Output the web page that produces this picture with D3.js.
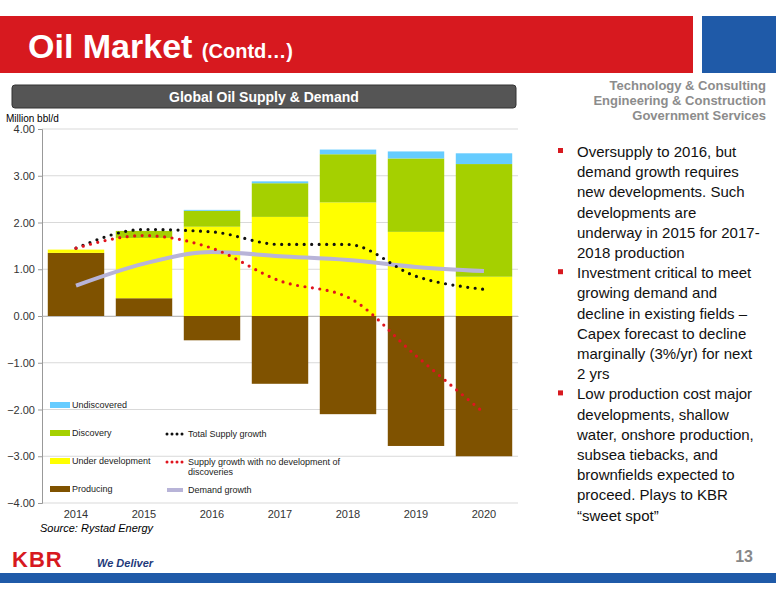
<!DOCTYPE html>
<html><head><meta charset="utf-8">
<script src="https://cdn.jsdelivr.net/npm/d3@7"></script>
<style>body{margin:0;background:#fff;font-family:Arial,"Liberation Sans",sans-serif}</style>
</head><body><svg id="c" width="776" height="600"></svg>
<script>
const years = ['2014','2015','2016','2017','2018','2019','2020'];
const producing = [1.35, 0.38, -0.52, -1.45, -2.10, -2.78, -3.00];
const underDev = [0.07, 1.29, 1.91, 2.12, 2.43, 1.80, 0.84];
const discovery = [0.00, 0.15, 0.34, 0.72, 1.03, 1.57, 2.41];
const undiscovered = [0.00, 0.00, 0.02, 0.04, 0.10, 0.15, 0.23];
const totalSupply = [1.45, 1.85, 1.80, 1.53, 1.53, 0.85, 0.57];
const noDiscSupply = [1.45, 1.72, 1.45, 0.75, 0.40, -0.85, -2.07];
const demand = [0.65, 1.12, 1.37, 1.28, 1.20, 1.05, 0.96];
const yTicks = [4, 3, 2, 1, 0, -1, -2, -3, -4];

const svg = d3.select('#c');
const C = {prod:'#7f5200', ud:'#ffff00', disc:'#a5d000', und:'#66ccff'};

// header
svg.append('rect').attr('x',0).attr('y',16).attr('width',693).attr('height',57).attr('fill','#d7191f');
svg.append('rect').attr('x',702).attr('y',16).attr('width',74).attr('height',57).attr('fill','#1f5aa8');
const t = svg.append('text').attr('x',28).attr('y',58).attr('fill','#fff').style('font-weight','bold');
t.append('tspan').attr('font-size',34).text('Oil Market ');
t.append('tspan').attr('font-size',20).text('(Contd…)');
['Technology & Consulting','Engineering & Construction','Government Services'].forEach((s,i)=>{
  svg.append('text').attr('x',766).attr('y',90+i*15).attr('text-anchor','end').attr('font-size',13)
    .attr('font-weight','bold').attr('fill','#8c8c8c').attr('font-family','"Liberation Sans Narrow",Arial').text(s);
});

// chart title bar
svg.append('rect').attr('x',12).attr('y',85).attr('width',504).attr('height',23).attr('rx',3).attr('fill','#555').attr('stroke','#333');
svg.append('text').attr('x',264).attr('y',102).attr('text-anchor','middle').attr('fill','#fff').attr('font-size',14).attr('font-weight','bold').text('Global Oil Supply & Demand');
svg.append('text').attr('x',6).attr('y',122).attr('font-size',10).text('Million bbl/d');

const x = d3.scaleBand().domain(years).range([42,518]).paddingInner(0.17).paddingOuter(0.085);
const y = d3.scaleLinear().domain([-4,4]).range([503,129]);

const g = svg.append('g');
g.selectAll('.grid').data(yTicks).join('line').attr('x1',42).attr('x2',518)
  .attr('y1',d=>y(d)).attr('y2',d=>y(d)).attr('stroke','#d9d9d9');
g.append('g').attr('transform','translate(42,0)')
  .call(d3.axisLeft(y).tickValues(yTicks).tickFormat(d3.format('.2f')).tickSize(4))
  .call(a=>{a.select('.domain').attr('stroke','#999');a.selectAll('text').attr('font-size',11).attr('fill','#333');a.selectAll('line').attr('stroke','#999');});
g.append('g').attr('transform','translate(0,'+y(0)+')')
  .call(d3.axisBottom(x).tickSize(0).tickFormat(''))
  .call(a=>a.select('.domain').attr('stroke','#bbb'));
years.forEach(yr=>svg.append('text').attr('x',x(yr)+x.bandwidth()/2).attr('y',518).attr('text-anchor','middle').attr('font-size',11).attr('fill','#333').text(yr));

// bars
years.forEach((yr,i)=>{
  const bx = x(yr), bw = x.bandwidth();
  const p = producing[i];
  g.append('rect').attr('x',bx).attr('width',bw).attr('y',y(Math.max(p,0))).attr('height',Math.abs(y(p)-y(0))).attr('fill',C.prod);
  let base = Math.max(p,0);
  [[underDev[i],C.ud],[discovery[i],C.disc],[undiscovered[i],C.und]].forEach(([v,c])=>{
    if(v<=0) return;
    g.append('rect').attr('x',bx).attr('width',bw).attr('y',y(base+v)).attr('height',y(base)-y(base+v)).attr('fill',c);
    base += v;
  });
});

const cx = i => x(years[i]) + x.bandwidth()/2;
const line = d3.line().x((d,i)=>cx(i)).y(d=>y(d)).curve(d3.curveMonotoneX);
g.append('path').attr('d',line(demand)).attr('fill','none').attr('stroke','#b8b4d8').attr('stroke-width',4);
[[totalSupply,'#111'],[noDiscSupply,'#e0141e']].forEach(([data,c])=>{
  g.append('path').attr('d',line(data)).attr('fill','none').attr('stroke',c).attr('stroke-width',3.2)
    .attr('stroke-linecap','round').attr('stroke-dasharray','0,7.5');
});

// legend
const lg = svg.append('g').attr('font-size',9).attr('fill','#222');
[['Undiscovered',C.und,405],['Discovery',C.disc,433],['Under development',C.ud,461],['Producing',C.prod,489]].forEach(([n,c,yy])=>{
  lg.append('rect').attr('x',50).attr('y',yy-3).attr('width',20).attr('height',6).attr('fill',c);
  lg.append('text').attr('x',72).attr('y',yy+3).text(n);
});
[['Total Supply growth','#111',434,true],['Supply growth with no development of',  '#e0141e',462,true],['Demand growth','#b8b4d8',490,false]].forEach(([n,c,yy,dot])=>{
  lg.append('line').attr('x1',167).attr('x2',183).attr('y1',yy).attr('y2',yy).attr('stroke',c)
    .attr('stroke-width',dot?3:4).attr('stroke-linecap',dot?'round':'butt').attr('stroke-dasharray',dot?'0,5':null);
  lg.append('text').attr('x',188).attr('y',yy+3).text(n);
});
lg.append('text').attr('x',188).attr('y',475).text('discoveries');

svg.append('text').attr('x',40).attr('y',532).attr('font-size',11).attr('font-style','italic').text('Source: Rystad Energy');

// bullets
const bullets = [
  ['Oversupply to 2016, but','demand growth requires','new developments. Such','developments are','underway in 2015 for 2017-','2018 production'],
  ['Investment critical to meet','growing demand and','decline in existing fields –','Capex forecast to decline','marginally (3%/yr) for next','2 yrs'],
  ['Low production cost major','developments, shallow','water, onshore production,','subsea tiebacks, and','brownfields expected to','proceed.  Plays to KBR','“sweet spot”']
];
let ly = 157;
bullets.forEach(b=>{
  svg.append('rect').attr('x',558).attr('y',ly-9).attr('width',5).attr('height',5).attr('fill','#d7191f');
  b.forEach(s=>{svg.append('text').attr('x',577).attr('y',ly).attr('font-size',15).attr('fill','#111').text(s);ly+=20.2;});
});

// footer
svg.append('text').attr('x',12).attr('y',567).attr('font-size',22).attr('font-weight','bold').attr('fill','#d7191f').attr('letter-spacing',1).text('KBR');
svg.append('text').attr('x',97).attr('y',567).attr('font-size',11).attr('font-weight','bold').attr('font-style','italic').attr('fill','#1f3a7a').text('We Deliver');
svg.append('text').attr('x',753).attr('y',562).attr('text-anchor','end').attr('font-size',16).attr('font-weight','bold').attr('fill','#888').text('13');
svg.append('rect').attr('x',0).attr('y',573).attr('width',776).attr('height',10).attr('fill','#1f5aa8');
</script></body></html>
